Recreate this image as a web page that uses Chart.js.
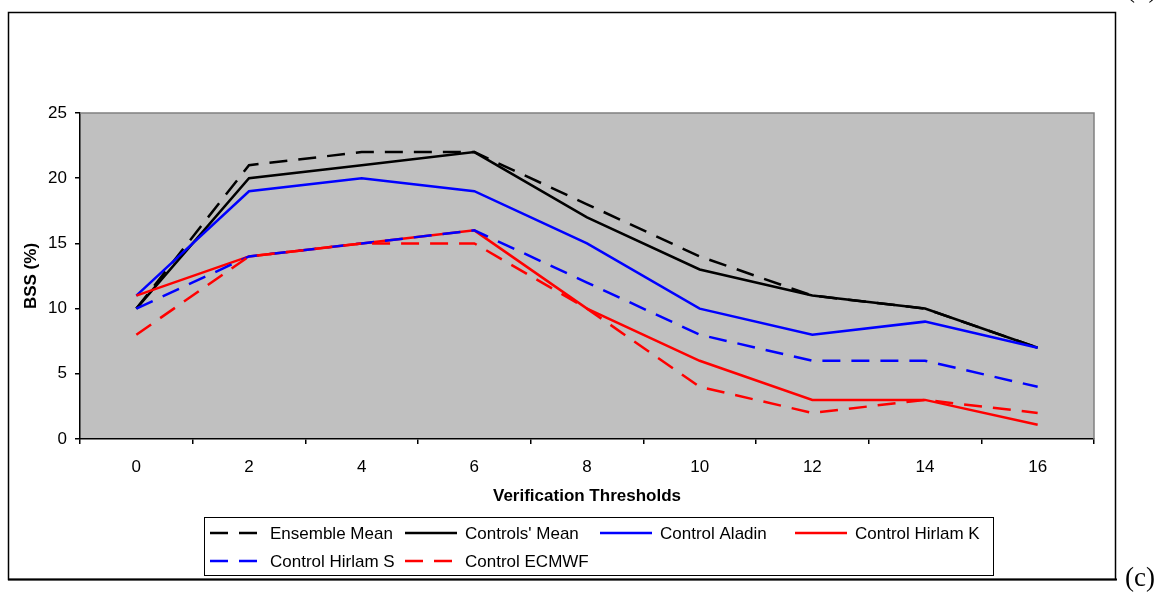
<!DOCTYPE html>
<html lang="en">
<head>
    <meta charset="UTF-8">
    <title>BSS chart</title>
    <style>
        body {
            margin: 0;
            background: #ffffff;
        }

        #wrap {
            width: 1162px;
            height: 592px;
        }
    </style>
    <script src="https://cdn.jsdelivr.net/npm/chart.js"></script>
</head>
<body>
    <div id="wrap">
        <canvas id="bss-chart" width="1162" height="592"></canvas>
    </div>
    <script>
        // thresholds on the x axis
        const thresholds = ['0', '2', '4', '6', '8', '10', '12', '14', '16'];

        const ensembleMean = [10, 21, 22, 22, 18, 14, 11, 10, 7];
        const controlsMean = [10, 20, 21, 22, 17, 13, 11, 10, 7];
        const controlAladin = [11, 19, 20, 19, 15, 10, 8, 9, 7];
        const controlHirlamK = [11, 14, 15, 16, 10, 6, 3, 3, 1.1];
        const controlHirlamS = [10, 14, 15, 16, 12, 8, 6, 6, 4];
        const controlEcmwf = [8, 14, 15, 15, 10, 4, 2, 3, 2];

        const seriesNames = ['Ensemble Mean', "Controls' Mean", 'Control Aladin', 'Control Hirlam K', 'Control Hirlam S', 'Control ECMWF'];
        const yTicks = [0, 5, 10, 15, 20, 25];

        const dash = [18, 11];
        const lineStyles = [
            { color: '#000000', dash: dash },
            { color: '#000000', dash: [] },
            { color: '#0000ff', dash: [] },
            { color: '#ff0000', dash: [] },
            { color: '#0000ff', dash: dash },
            { color: '#ff0000', dash: dash }
        ];
        const allSeries = [ensembleMean, controlsMean, controlAladin, controlHirlamK, controlHirlamS, controlEcmwf];

        const FONT = '"Liberation Sans", Arial, sans-serif';
        const FS = 17;

        const datasets = allSeries.map((values, i) => ({
            label: seriesNames[i],
            data: values,
            borderColor: lineStyles[i].color,
            borderDash: lineStyles[i].dash,
            borderWidth: 2.5,
            borderCapStyle: 'butt',
            pointRadius: 0,
            tension: 0,
            fill: false,
            order: allSeries.length - 1 - i
        }));

        // grey plot area, frame, legend box and panel labels
        const decorations = {
            id: 'decorations',
            beforeDraw(chart) {
                const { ctx, chartArea: a } = chart;
                ctx.save();
                ctx.fillStyle = '#c0c0c0';
                ctx.fillRect(a.left, a.top, a.right - a.left, a.bottom - a.top);
                ctx.restore();
            },
            afterDatasetsDraw(chart) {
                const { ctx, chartArea: a } = chart;
                ctx.save();
                ctx.strokeStyle = '#808080';
                ctx.lineWidth = 1.5;
                ctx.beginPath();
                ctx.moveTo(a.left, a.top);
                ctx.lineTo(a.right, a.top);
                ctx.lineTo(a.right, a.bottom);
                ctx.stroke();
                ctx.restore();
            },
            afterDraw(chart) {
                const ctx = chart.ctx;
                ctx.save();

                // outer frame
                ctx.strokeStyle = '#000000';
                ctx.lineWidth = 1.5;
                ctx.strokeRect(8.5, 12.5, 1107, 567);
                ctx.lineWidth = 2;
                ctx.beginPath();
                ctx.moveTo(8, 579.5);
                ctx.lineTo(1117, 579.5);
                ctx.stroke();

                // legend
                ctx.fillStyle = '#ffffff';
                ctx.fillRect(204, 517, 789, 58);
                ctx.lineWidth = 1;
                ctx.strokeRect(204.5, 517.5, 789, 58);

                const colX = [210, 405, 600, 795];
                const rowY = [533, 561];
                ctx.font = FS + 'px ' + FONT;
                ctx.textBaseline = 'middle';
                ctx.textAlign = 'left';
                datasets.forEach((ds, i) => {
                    const x = colX[i % 4];
                    const y = rowY[Math.floor(i / 4)];
                    ctx.strokeStyle = ds.borderColor;
                    ctx.lineWidth = 2.5;
                    ctx.lineCap = 'butt';
                    ctx.setLineDash(ds.borderDash);
                    ctx.beginPath();
                    ctx.moveTo(x, y);
                    ctx.lineTo(x + 52, y);
                    ctx.stroke();
                    ctx.setLineDash([]);
                    ctx.fillStyle = '#000000';
                    ctx.fillText(ds.label, x + 60, y + 1);
                });

                // panel labels
                ctx.font = '27px "Liberation Serif", "Times New Roman", serif';
                ctx.textBaseline = 'alphabetic';
                ctx.fillStyle = '#000000';
                ctx.fillText('(c)', 1125, 586);
                ctx.fillText('(b)', 1126, -3);
                ctx.restore();
            }
        };

        new Chart(document.getElementById('bss-chart'), {
            type: 'line',
            data: {
                labels: thresholds,
                datasets: datasets
            },
            options: {
                responsive: false,
                animation: false,
                layout: {
                    padding: { left: 0, right: 68, top: 113, bottom: 85 }
                },
                plugins: {
                    legend: { display: false },
                    tooltip: { enabled: false }
                },
                scales: {
                    x: {
                        offset: true,
                        grid: {
                            offset: true,
                            drawOnChartArea: false,
                            drawTicks: true,
                            tickLength: 5,
                            color: '#000000',
                            lineWidth: 1.5
                        },
                        border: { display: true, color: '#000000', width: 1.5 },
                        ticks: {
                            color: '#000000',
                            font: { family: FONT, size: FS },
                            padding: 13,
                            maxRotation: 0
                        },
                        title: {
                            display: true,
                            text: 'Verification Thresholds',
                            color: '#000000',
                            font: { family: FONT, size: FS, weight: 'bold' },
                            padding: { top: 0, bottom: 0 }
                        },
                        afterFit(scale) {
                            scale.height = 68;
                        }
                    },
                    y: {
                        min: 0,
                        max: 25,
                        afterBuildTicks(scale) {
                            scale.ticks = yTicks.map(v => ({ value: v }));
                        },
                        grid: {
                            drawOnChartArea: false,
                            drawTicks: true,
                            tickLength: 5,
                            color: '#000000',
                            lineWidth: 1.5
                        },
                        border: { display: true, color: '#000000', width: 1.5 },
                        ticks: {
                            color: '#000000',
                            font: { family: FONT, size: FS },
                            padding: 8
                        },
                        title: {
                            display: true,
                            text: 'BSS (%)',
                            color: '#000000',
                            font: { family: FONT, size: FS, weight: 'bold' },
                            padding: { top: 21, bottom: 0 }
                        },
                        afterFit(scale) {
                            scale.width = 80;
                        }
                    }
                }
            },
            plugins: [decorations]
        });
    </script>
</body>
</html>
